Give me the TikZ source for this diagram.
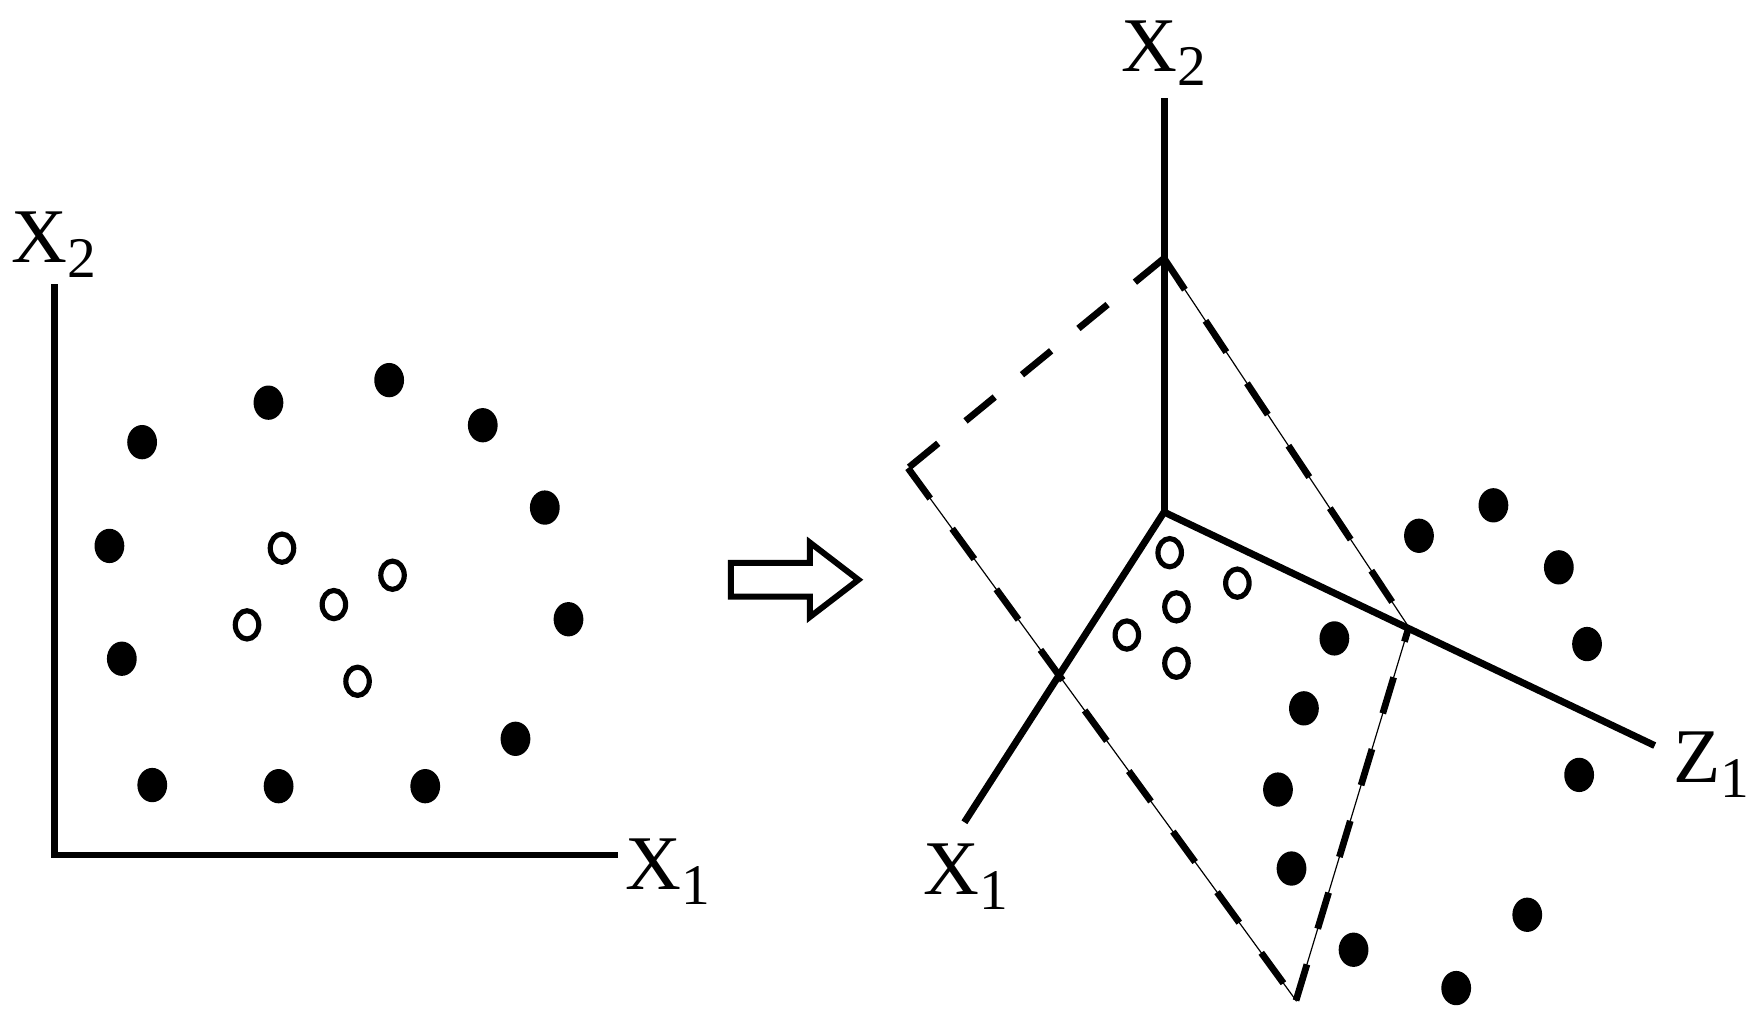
\documentclass[tikz,border=0pt]{standalone}
\usepackage{fontspec}
\setmainfont{Liberation Serif}
\newcommand{\axlbl}[2]{#1\raisebox{-3.7pt}{\fontsize{14.5}{14.5}\selectfont #2}}
\tikzset{
  axis/.style={line width=1.75pt},
  fdot/.style={fill=black},
  odot/.style={draw=black, line width=1.3pt},
  planedash/.style={line width=1.7pt, dash pattern=on 9.5pt off 9.4pt},
  planethin/.style={line width=0.3pt},
  axname/.style={inner sep=0pt, anchor=base, font=\fontsize{19.5}{23}\selectfont}
}
\begin{document}
\begin{tikzpicture}[x=0.01cm, y=-0.01cm, line join=miter, line cap=butt]
\useasboundingbox (0,0) rectangle (1563,913);
% Hai truc ben trai
\coordinate (O1) at (48,758);
\coordinate (T1) at (48,252);
\coordinate (R1) at (548,758);
\draw[axis] (T1) -- (O1) -- (R1);
\node[axname] (lx2) at (48,233) {\axlbl{X}{2}};
\node[axname] (lx1) at (592,789) {\axlbl{X}{1}};
% Cac diem ben trai
\foreach \x/\y in {126/392, 238/357, 345/337, 428/377, 483/450, 97/484,
  504/549, 108/584, 457/655, 135/696, 247/697, 377/697}
  \fill[fdot] (\x,\y) ellipse [x radius=0.132cm, y radius=0.152cm];
\foreach \x/\y in {250/486, 348/510, 296/536, 219/554, 317/604}
  \draw[odot] (\x,\y) ellipse [x radius=0.104cm, y radius=0.125cm];
% Mui ten
\draw[line width=1.5pt] (648,499) -- (718,499) -- (718,481) -- (761,514)
  -- (718,547) -- (718,529) -- (648,529) -- cycle;
% Ba truc ben phai
\coordinate (O2) at (1032,454);
\coordinate (T2) at (1032,87);
\coordinate (A2) at (855,729);
\coordinate (Z2) at (1467,661);
\draw[axis] (T2) -- (O2);
\draw[axis] (O2) -- (A2);
\draw[axis] (O2) -- (Z2);
\node[axname] (rx2) at (1032,63) {\axlbl{X}{2}};
\node[axname] (rx1) at (856,793) {\axlbl{X}{1}};
\node[axname] (rz1) at (1517,694) {\axlbl{Z}{1}};
% Mat phang (net dut)
\coordinate (P1) at (1032,229);
\coordinate (P2) at (805,415);
\coordinate (P3) at (1149,887);
\coordinate (P4) at (1249,556);
\draw[planedash, dash pattern=on 9.5pt off 8.9pt] (P1) -- (P2);
\draw[planethin] (P2) -- (P3) -- (P4) -- (P1);
\draw[planedash] (P2) -- (P3);
\draw[planedash] (P3) -- (P4);
\draw[planedash] (P1) -- (P4);
% Cac diem ben phai
\foreach \x/\y in {1258/475, 1324/448, 1382/503, 1407/571, 1183/566, 1156/628,
  1133/700, 1145/770, 1400/687, 1354/811, 1200/842, 1291/876}
  \fill[fdot] (\x,\y) ellipse [x radius=0.132cm, y radius=0.152cm];
\foreach \x/\y in {1037/490, 1097/517, 1043/538, 999/563, 1043/588}
  \draw[odot] (\x,\y) ellipse [x radius=0.104cm, y radius=0.125cm];
\end{tikzpicture}
\end{document}
